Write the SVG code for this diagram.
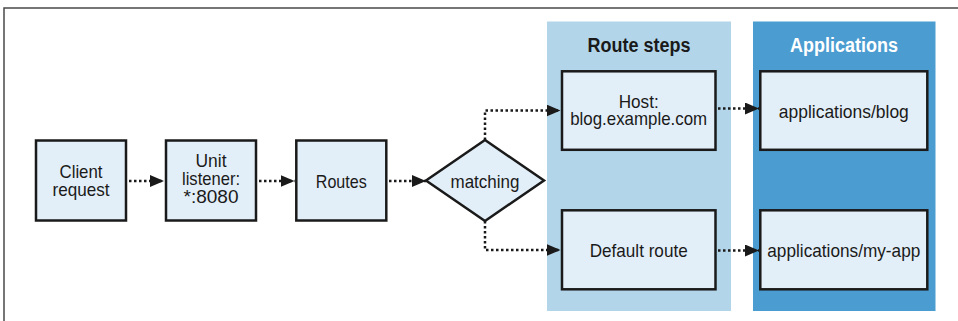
<svg xmlns="http://www.w3.org/2000/svg" width="958" height="321" viewBox="0 0 958 321">
  <style>
    .box { fill: #e3eff8; stroke: #1a1a1a; stroke-width: 2.5; }
    .lbl { font-family: "Liberation Sans", Arial, sans-serif; font-size: 19px; fill: #1a1a1a; text-anchor: middle; }
    .title { font-family: "Liberation Sans", Arial, sans-serif; font-size: 20px; font-weight: bold; text-anchor: middle; }
    .conn { fill: none; stroke: #1a1a1a; stroke-width: 2.5; stroke-dasharray: 2.5 2.5; marker-end: url(#arrow); }
  </style>
  <defs>
    <marker id="arrow" viewBox="0 0 14 12" refX="14" refY="6" markerWidth="14" markerHeight="12" markerUnits="userSpaceOnUse" orient="auto">
      <path d="M0,0 L14,6 L0,12 Z" fill="#1a1a1a"/>
    </marker>
  </defs>
  <rect width="958" height="321" fill="#ffffff"/>
  <path d="M4,321 V8 H958" fill="none" stroke="#4a4a4a" stroke-width="1.5"/>

  <g id="panel-route-steps">
    <rect x="547" y="21.5" width="184" height="289.5" fill="#b3d5ea"/>
    <text class="title" x="639" y="52" fill="#1a1a1a" textLength="103" lengthAdjust="spacingAndGlyphs">Route steps</text>
  </g>
  <g id="panel-applications">
    <rect x="753" y="21.5" width="182.5" height="289.5" fill="#4b9cd0"/>
    <text class="title" x="844" y="52" fill="#ffffff" textLength="108" lengthAdjust="spacingAndGlyphs">Applications</text>
  </g>

  <g id="connectors">
    <path class="conn" d="M129,181 H164"/>
    <path class="conn" d="M259,181 H294.5"/>
    <path class="conn" d="M389,181 H426"/>
    <path class="conn" d="M485,140 V110.5 H560.5"/>
    <path class="conn" d="M485,221 V250 H560.5"/>
    <path class="conn" d="M718,108.5 H759"/>
    <path class="conn" d="M718,250.5 H759"/>
  </g>

  <g id="client-request">
    <rect class="box" x="36" y="140.5" width="90" height="80"/>
    <text class="lbl" x="81" y="178" textLength="43" lengthAdjust="spacingAndGlyphs">Client</text>
    <text class="lbl" x="81" y="196" textLength="57" lengthAdjust="spacingAndGlyphs">request</text>
  </g>
  <g id="unit-listener">
    <rect class="box" x="166" y="140.5" width="90" height="80"/>
    <text class="lbl" x="211" y="167" textLength="31" lengthAdjust="spacingAndGlyphs">Unit</text>
    <text class="lbl" x="211" y="185" textLength="58" lengthAdjust="spacingAndGlyphs">listener:</text>
    <text class="lbl" x="211" y="203" textLength="55" lengthAdjust="spacingAndGlyphs">*:8080</text>
  </g>
  <g id="routes">
    <rect class="box" x="296.3" y="140.5" width="90" height="80"/>
    <text class="lbl" x="341.3" y="188" textLength="51" lengthAdjust="spacingAndGlyphs">Routes</text>
  </g>
  <g id="matching">
    <path class="box" d="M426,180.5 L485,140 L544,180.5 L485,221 Z"/>
    <text class="lbl" x="485" y="188" textLength="69" lengthAdjust="spacingAndGlyphs">matching</text>
  </g>
  <g id="host">
    <rect class="box" x="562" y="71.3" width="153.5" height="78.5"/>
    <text class="lbl" x="638.7" y="108" textLength="40" lengthAdjust="spacingAndGlyphs">Host:</text>
    <text class="lbl" x="638.7" y="125" textLength="137" lengthAdjust="spacingAndGlyphs">blog.example.com</text>
  </g>
  <g id="default-route">
    <rect class="box" x="562" y="210.3" width="153.5" height="79"/>
    <text class="lbl" x="638.7" y="257" textLength="98" lengthAdjust="spacingAndGlyphs">Default route</text>
  </g>
  <g id="app-blog">
    <rect class="box" x="760.3" y="71.3" width="167" height="78.5"/>
    <text class="lbl" x="843.8" y="118" textLength="130" lengthAdjust="spacingAndGlyphs">applications/blog</text>
  </g>
  <g id="app-my-app">
    <rect class="box" x="760.3" y="210.3" width="167" height="79"/>
    <text class="lbl" x="843.8" y="257" textLength="153" lengthAdjust="spacingAndGlyphs">applications/my-app</text>
  </g>
</svg>
